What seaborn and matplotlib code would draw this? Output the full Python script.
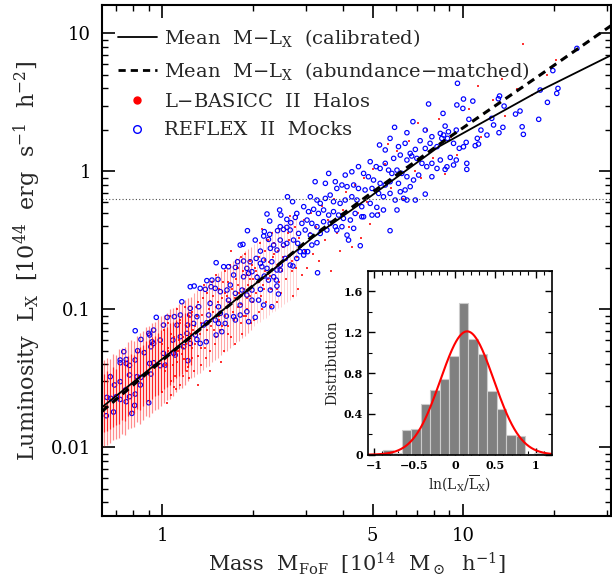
import numpy as np
import matplotlib
matplotlib.use("Agg")
import matplotlib.pyplot as plt
import seaborn as sns
from matplotlib.lines import Line2D
from matplotlib.ticker import FixedLocator, FixedFormatter, NullFormatter, LogLocator, MultipleLocator

sns.set_theme(style="ticks")
plt.rcParams["font.family"] = ["DejaVu Serif"]
plt.rcParams["mathtext.fontset"] = "dejavuserif"

# ---- REFLEX II mocks (log10 mass [1e14 Msun/h], log10 Lx [1e44 erg/s/h^2]) ----
mock_logm = [
    0.065, 0.093, 0.121, 0.159, 0.187, 0.220,
    -0.020, 0.016, 0.040, 0.060, 0.091, 0.115, 0.154, 0.193, 0.213,
    -0.090, -0.045, -0.042, -0.029, 0.004, 0.049, 0.084, 0.104, 0.137, 0.148, 0.176, 0.187, 0.209,
    -0.071, -0.034, -0.007, 0.035, 0.060, 0.082, 0.110, 0.126, 0.146, 0.179, 0.198,
    -0.128, -0.082, -0.060, -0.038, -0.029, 0.004, 0.038, 0.071, 0.085, 0.093, 0.115,
    -0.140, -0.120, -0.140, -0.120, -0.109, -0.090, -0.042, -0.007, 0.010, 0.043,
    -0.173, -0.159, -0.140, -0.109, -0.084, -0.071, -0.038, -0.029,
    -0.184, -0.171, -0.153, -0.140, -0.123, -0.109, -0.090, -0.073,
    -0.186, -0.162, -0.120, -0.101, -0.092, -0.045,
    0.416, 0.433, 0.348, 0.390, 0.394, 0.357, 0.447, 0.442, 0.414, 0.427,
    0.283, 0.339, 0.357, 0.383, 0.392, 0.403, 0.414, 0.425, 0.453,
    0.259, 0.268, 0.309, 0.326, 0.337, 0.353, 0.359, 0.370, 0.381, 0.392, 0.403, 0.414, 0.436, 0.450, 0.458, 0.472, 0.497, 0.514,
    0.179, 0.250, 0.270, 0.292, 0.312, 0.326, 0.337, 0.331, 0.348, 0.364, 0.381, 0.392, 0.409, 0.425, 0.434, 0.447, 0.470, 0.483, 0.516,
    0.148, 0.165, 0.185, 0.204, 0.220, 0.237, 0.243, 0.270, 0.281, 0.287, 0.298, 0.315, 0.339, 0.353, 0.370, 0.379, 0.392,
    0.093, 0.106, 0.126, 0.143, 0.162, 0.176, 0.193, 0.215, 0.226, 0.243, 0.265, 0.281, 0.298, 0.326, 0.359, 0.381, 0.386,
    0.259, 0.281, 0.298, 0.320, 0.337, 0.364, 0.237, 0.259, 0.287, 0.309, 0.243,
    0.772, 0.813, 0.874, 0.896,
    0.722, 0.741, 0.757, 0.785, 0.807, 0.824, 0.841, 0.857, 0.874, 0.890, 0.913,
    0.769, 0.791, 0.813, 0.829, 0.846, 0.863, 0.879, 0.896, 0.913,
    0.691, 0.711, 0.724, 0.741, 0.752, 0.763, 0.780, 0.796, 0.813, 0.835, 0.852, 0.896,
    0.553, 0.608, 0.630, 0.652, 0.669, 0.685, 0.702, 0.724, 0.741, 0.757, 0.785, 0.807, 0.824,
    0.508, 0.542, 0.575, 0.580, 0.597, 0.614, 0.636, 0.652, 0.674, 0.697, 0.719, 0.735, 0.757, 0.774, 0.791, 0.813, 0.841, 0.874,
    0.492, 0.514, 0.525, 0.542, 0.558, 0.569, 0.591, 0.608, 0.630, 0.647, 0.663, 0.691, 0.713, 0.735, 0.780, 0.802,
    0.470, 0.486, 0.503, 0.519, 0.536, 0.553, 0.569, 0.586, 0.602, 0.625, 0.641, 0.669, 0.697, 0.715,
    0.464, 0.481, 0.497, 0.514, 0.536, 0.558, 0.575, 0.597, 0.614, 0.636, 0.663, 0.757,
    0.475, 0.492, 0.525, 0.547, 0.580,
    0.619, 0.658, 0.885, 0.833, 1.012, 0.940, 0.924,
    0.981, 1.001, 1.032, 0.979, 0.999, 0.933, 1.019, 1.121, 1.117, 1.136, 1.189, 1.174, 1.251, 1.095, 1.101, 1.059, 1.047, 1.079, 1.119, 1.132, 1.196, 1.200,
    1.256, 1.280, 1.315, 1.311, 1.298, 1.378, 1.051, 1.040, 1.010, 1.001, 0.987, 0.968, 0.940, 0.951, 0.924, 0.935, 0.948, 0.929, 0.977, 1.012, 0.977, 0.957, 0.968, 0.946,
]
mock_loglx = [
    -0.945, -0.993, -0.981, -0.957, -0.981, -0.933,
    -1.058, -1.058, -1.053, -1.041, -1.041, -1.053, -1.041, -1.029, -1.049,
    -1.155, -1.174, -1.186, -1.150, -1.114, -1.114, -1.114, -1.102, -1.114, -1.097, -1.078, -1.102, -1.102,
    -1.218, -1.235, -1.223, -1.223, -1.198, -1.174, -1.186, -1.247, -1.235, -1.186, -1.162,
    -1.307, -1.300, -1.314, -1.271, -1.247, -1.319, -1.319, -1.271, -1.372, -1.247, -1.218,
    -1.367, -1.363, -1.387, -1.392, -1.406, -1.367, -1.392, -1.408, -1.404, -1.331,
    -1.488, -1.548, -1.524, -1.476, -1.488, -1.493, -1.469, -1.387,
    -1.638, -1.645, -1.633, -1.653, -1.585, -1.633, -1.614, -1.548,
    -1.771, -1.744, -1.669, -1.754, -1.696, -1.677,
    -0.184, -0.220, -0.309, -0.280, -0.317, -0.360, -0.305, -0.334, -0.348, -0.372,
    -0.430, -0.437, -0.457, -0.430, -0.401, -0.421, -0.406, -0.425, -0.450,
    -0.534, -0.529, -0.498, -0.578, -0.469, -0.493, -0.558, -0.534, -0.570, -0.498, -0.534, -0.522, -0.498, -0.522, -0.582, -0.582, -0.534, -0.517,
    -0.662, -0.655, -0.650, -0.655, -0.631, -0.667, -0.643, -0.691, -0.703, -0.655, -0.715, -0.679, -0.631, -0.679, -0.686, -0.631, -0.607, -0.582, -0.735,
    -0.792, -0.788, -0.783, -0.691, -0.691, -0.751, -0.696, -0.764, -0.703, -0.739, -0.727, -0.768, -0.759, -0.788, -0.764, -0.788, -0.715,
    -0.836, -0.831, -0.848, -0.855, -0.836, -0.848, -0.872, -0.860, -0.824, -0.884, -0.860, -0.896, -0.860, -0.855, -0.860, -0.831, -0.889,
    -0.969, -1.017, -0.933, -0.933, -0.969, -0.981, -1.053, -1.041, -1.089, -1.058, -1.077,
    0.319, 0.280, 0.299, 0.251,
    0.191, 0.155, 0.239, 0.179, 0.203, 0.130, 0.159, 0.222, 0.166, 0.203, 0.179,
    0.094, 0.118, 0.082, 0.111, 0.094, 0.058, 0.034, 0.058, 0.021,
    0.070, 0.034, 0.021, 0.058, 0.009, -0.015, 0.009, -0.015, -0.039, -0.063, -0.027, -0.039,
    -0.015, -0.027, -0.003, 0.034, -0.015, -0.039, -0.063, -0.087, -0.099, -0.075, -0.087, -0.135, -0.111,
    -0.075, -0.087, -0.075, -0.124, -0.099, -0.111, -0.099, -0.124, -0.135, -0.124, -0.160, -0.184, -0.160, -0.208, -0.148, -0.208, -0.208, -0.165,
    -0.184, -0.208, -0.232, -0.196, -0.172, -0.220, -0.232, -0.208, -0.184, -0.208, -0.256, -0.232, -0.261, -0.280, -0.280, -0.196,
    -0.256, -0.292, -0.275, -0.305, -0.280, -0.317, -0.292, -0.317, -0.341, -0.353, -0.305, -0.329, -0.317, -0.317,
    -0.377, -0.353, -0.377, -0.401, -0.365, -0.377, -0.401, -0.401, -0.462, -0.413, -0.329, -0.430,
    -0.425, -0.462, -0.450, -0.425, -0.425,
    -0.498, -0.539, 0.488, 0.360, 0.014, 0.014, 0.082,
    0.638, 0.524, 0.509, 0.481, 0.456, 0.420, 0.377, 0.546, 0.526, 0.473, 0.437, 0.415, 0.377, 0.384, 0.336, 0.299, 0.239, 0.263, 0.280, 0.319, 0.323, 0.268,
    0.589, 0.500, 0.601, 0.565, 0.730, 0.891, 0.198, 0.186, 0.210, 0.178, 0.167, 0.203, 0.328, 0.287, 0.275, 0.263, 0.239, 0.239, 0.299, 0.058, 0.082, 0.101, 0.046, 0.033,
]

# ---- L-BASICC II halos: discrete low-mass columns (log10 mass, log10 Lx range) ----
column_logm = [-0.195, -0.185, -0.175, -0.165, -0.155, -0.145, -0.135, -0.125, -0.115, -0.105,
               -0.095, -0.085, -0.075, -0.065, -0.055, -0.045, -0.035, -0.025, -0.015, -0.005,
               0.005, 0.015, 0.025, 0.035, 0.045, 0.055, 0.065, 0.075, 0.085, 0.095]
column_lo = [-1.99, -1.98, -1.97, -1.95, -1.94, -1.93, -1.90, -1.91, -1.87, -1.86,
             -1.85, -1.82, -1.83, -1.80, -1.77, -1.78, -1.75, -1.73, -1.72, -1.70,
             -1.68, -1.66, -1.65, -1.63, -1.60, -1.58, -1.57, -1.55, -1.52, -1.50]
column_hi = [-1.37, -1.35, -1.36, -1.32, -1.33, -1.29, -1.28, -1.27, -1.24, -1.22,
             -1.23, -1.19, -1.17, -1.16, -1.13, -1.12, -1.10, -1.09, -1.07, -1.05,
             -1.04, -1.03, -1.00, -0.99, -0.98, -0.96, -0.95, -0.93, -0.92, -0.91]
sparse_logm = [0.105, 0.115, 0.125, 0.135, 0.145, 0.155, 0.165, 0.175, 0.185, 0.195,
               0.205, 0.215, 0.225, 0.235, 0.245, 0.255, 0.265, 0.275, 0.285, 0.295]
sparse_lo = [-1.49, -1.47, -1.46, -1.44, -1.42, -1.41, -1.38, -1.37, -1.35, -1.33,
             -1.31, -1.30, -1.28, -1.26, -1.24, -1.23, -1.21, -1.19, -1.17, -1.15]
sparse_hi = [-0.88, -0.86, -0.85, -0.83, -0.81, -0.79, -0.78, -0.76, -0.74, -0.72,
             -0.70, -0.69, -0.67, -0.65, -0.63, -0.62, -0.60, -0.58, -0.56, -0.55]
faint_logm = [0.305, 0.315, 0.325, 0.335, 0.345, 0.355, 0.365, 0.375, 0.385, 0.395,
              0.405, 0.415, 0.425, 0.435, 0.445]
faint_lo = [-1.12, -1.10, -1.09, -1.07, -1.06, -1.04, -1.02, -1.01, -0.99, -0.98,
            -0.96, -0.95, -0.93, -0.92, -0.90]
faint_hi = [-0.53, -0.51, -0.50, -0.48, -0.47, -0.45, -0.43, -0.42, -0.40, -0.39,
            -0.37, -0.36, -0.34, -0.33, -0.31]

# ---- L-BASICC II halos: scattered cloud ----
halo_logm = [
    0.00, 0.01, 0.02, 0.03, 0.04, 0.05, 0.06, 0.07, 0.08, 0.09, 0.10,
    0.005, 0.015, 0.025, 0.035, 0.045, 0.055, 0.065, 0.075, 0.085, 0.095,
    0.00, 0.02, 0.04, 0.06, 0.08, 0.10, 0.03, 0.07, 0.09, 0.05,
    0.11, 0.12, 0.13, 0.14, 0.15, 0.16, 0.17, 0.18, 0.19, 0.20,
    0.105, 0.115, 0.125, 0.135, 0.145, 0.155, 0.165, 0.175, 0.185, 0.195,
    0.11, 0.13, 0.15, 0.17, 0.19, 0.12, 0.16, 0.18, 0.14, 0.20,
    0.21, 0.22, 0.23, 0.24, 0.25, 0.26, 0.27, 0.28, 0.29, 0.30,
    0.205, 0.215, 0.225, 0.235, 0.245, 0.255, 0.265, 0.275, 0.285, 0.295,
    0.22, 0.24, 0.26, 0.28, 0.30, 0.23, 0.27, 0.29, 0.21, 0.25,
    0.31, 0.32, 0.33, 0.34, 0.35, 0.36, 0.37, 0.38, 0.39, 0.40,
    0.305, 0.315, 0.325, 0.335, 0.345, 0.355, 0.365, 0.375, 0.385, 0.395,
    0.32, 0.34, 0.36, 0.38, 0.33,
    0.41, 0.42, 0.43, 0.44, 0.45, 0.46, 0.47, 0.48, 0.49, 0.50,
    0.415, 0.435, 0.455, 0.475, 0.495, 0.425, 0.445, 0.465,
    0.51, 0.52, 0.53, 0.54, 0.55, 0.56, 0.57, 0.58, 0.59, 0.60,
    0.61, 0.62, 0.63, 0.64, 0.65, 0.66, 0.67, 0.68, 0.69, 0.70,
    0.72, 0.74, 0.76, 0.78, 0.80, 0.82, 0.84, 0.86, 0.88, 0.90, 0.92, 0.94, 0.96, 0.98, 0.75, 0.85,
    1.02, 1.06, 1.10, 1.14, 1.18, 1.23, 1.28, 1.20, 1.05, 1.31, 1.13,
    0.012, 0.028, 0.042, 0.058, 0.072, 0.088, 0.102, 0.118, 0.132, 0.148,
    0.162, 0.178, 0.192, 0.208, 0.222, 0.238, 0.252, 0.268, 0.282, 0.298,
    0.312, 0.328, 0.342, 0.358, 0.372, 0.388, 0.402, 0.418, 0.432, 0.448,
    0.018, 0.038, 0.052, 0.068, 0.082, 0.098, 0.112, 0.128, 0.142, 0.158,
    0.172, 0.188, 0.202, 0.218, 0.232, 0.248, 0.262, 0.278, 0.292, 0.308,
    0.322, 0.338, 0.352, 0.368, 0.382, 0.398,
]
halo_loglx = [
    -1.60, -1.45, -1.30, -1.52, -1.20, -1.38, -1.10, -1.48, -1.25, -1.05, -1.35,
    -1.15, -1.68, -1.05, -1.40, -1.58, -1.22, -1.32, -0.98, -1.42, -1.18,
    -1.25, -1.10, -1.33, -1.55, -1.12, -1.02, -1.62, -1.28, -1.50, -1.00,
    -1.25, -0.95, -1.40, -1.10, -0.88, -1.30, -1.02, -1.20, -0.85, -1.12,
    -1.45, -1.05, -1.18, -0.92, -1.35, -1.00, -0.80, -1.25, -0.95, -1.38,
    -1.12, -1.28, -1.15, -0.90, -1.08, -1.55, -1.45, -0.75, -0.82, -0.92,
    -1.05, -0.80, -1.20, -0.92, -0.70, -1.10, -0.85, -1.00, -0.65, -0.95,
    -1.30, -0.90, -0.68, -1.02, -0.78, -0.88, -1.18, -0.60, -0.82, -1.10,
    -1.12, -1.25, -0.62, -0.75, -0.78, -0.58, -1.05, -0.90, -0.72, -0.98,
    -0.88, -0.62, -1.00, -0.72, -0.50, -0.85, -0.60, -0.95, -0.70, -0.55,
    -1.08, -0.75, -0.52, -0.82, -0.95, -0.66, -0.45, -0.78, -0.58, -0.88,
    -0.80, -0.58, -0.98, -0.68, -0.42,
    -0.78, -0.50, -0.65, -0.40, -0.85, -0.55, -0.35, -0.70, -0.45, -0.60,
    -0.62, -0.90, -0.48, -0.58, -0.30, -0.32, -0.70, -0.75,
    -0.40, -0.65, -0.25, -0.50, -0.35, -0.72, -0.20, -0.45, -0.58, -0.28,
    -0.15, -0.40, -0.55, -0.10, -0.30, -0.48, -0.05, -0.22, -0.38, 0.02,
    -0.30, 0.05, -0.12, 0.15, -0.20, 0.22, 0.00, -0.05, 0.30, 0.10, 0.38, -0.02, 0.25, 0.12, 0.20, 0.35,
    0.45, 0.25, 0.52, 0.40, 0.60, 0.55, 0.70, 0.92, 0.62, 0.81, 0.67,
    -1.40, -1.18, -1.48, -1.08, -1.36, -1.22, -1.15, -1.34, -1.04, -1.22,
    -1.12, -0.98, -1.15, -0.88, -0.95, -1.08, -0.82, -0.72, -0.92, -0.68,
    -0.72, -0.90, -0.64, -0.76, -0.52, -0.80, -0.62, -0.45, -0.72, -0.62,
    -1.28, -1.56, -1.30, -1.20, -1.45, -1.28, -0.98, -1.10, -1.28, -0.94,
    -1.15, -1.05, -0.80, -1.18, -0.85, -0.70, -0.96, -1.05, -0.78, -0.70,
    -1.02, -0.85, -0.78, -0.62, -0.85, -0.72,
]

# ---- mean relations ----
calib_mass = [0.63, 1.0, 2.0, 3.16, 4.79, 8.3, 17.8, 31.6]
calib_lx = [0.0195, 0.0437, 0.148, 0.331, 0.631, 1.51, 3.80, 7.08]
abund_mass = [0.63, 1.0, 2.0, 3.16, 4.79, 8.9, 17.8, 31.6]
abund_lx = [0.0182, 0.0427, 0.148, 0.339, 0.661, 1.74, 4.90, 11.7]
flux_limit_lx = 0.63

# ---- inset histogram ----
hist_edges = [-0.89, -0.77, -0.66, -0.54, -0.42, -0.31, -0.19, -0.07, 0.05,
              0.16, 0.28, 0.40, 0.52, 0.63, 0.75, 0.87, 0.98, 1.10]
hist_density = [0.05, 0.02, 0.24, 0.25, 0.50, 0.63, 0.74, 0.97, 1.49,
                1.13, 0.99, 0.62, 0.45, 0.19, 0.18, 0.01, 0.02]
gauss_mean = 0.15
gauss_sigma = 0.33

fig = plt.figure(figsize=(6.12, 5.82), dpi=100)
ax = fig.add_axes([0.1672, 0.1134, 0.8312, 0.8777])
ax.set_xscale("log")
ax.set_yscale("log")

cm = 10 ** np.array(column_logm)
ax.vlines(cm, 10 ** np.array(column_lo), 10 ** np.array(column_hi), color="red", lw=0.9, alpha=0.45)
ax.vlines(cm, 10 ** (np.array(column_lo) + 0.1), 10 ** (np.array(column_hi) - 0.1), color="red", lw=0.9, alpha=0.75)
ax.vlines(10 ** np.array(sparse_logm), 10 ** np.array(sparse_lo), 10 ** np.array(sparse_hi),
          color="red", lw=0.8, alpha=0.35)
ax.vlines(10 ** np.array(faint_logm), 10 ** np.array(faint_lo), 10 ** np.array(faint_hi),
          color="red", lw=0.7, alpha=0.18)

sns.scatterplot(x=10 ** np.array(halo_logm), y=10 ** np.array(halo_loglx), ax=ax,
                color="red", marker="s", s=3, linewidth=0, alpha=0.8, legend=False)
sns.scatterplot(x=10 ** np.array(mock_logm), y=10 ** np.array(mock_loglx), ax=ax,
                marker="o", s=10, facecolor="none", edgecolor="blue", linewidth=0.85, legend=False)

sns.lineplot(x=calib_mass, y=calib_lx, ax=ax, color="black", lw=1.3, estimator=None, sort=False)
sns.lineplot(x=abund_mass, y=abund_lx, ax=ax, color="black", lw=2.2, estimator=None, sort=False,
             linestyle=(0, (2.6, 1.8)))
ax.axhline(flux_limit_lx, color="0.3", lw=0.8, ls=(0, (1, 2)))

ax.set_xlim(0.632, 31.0)
ax.set_ylim(0.00318, 16.0)
ax.xaxis.set_major_locator(FixedLocator([1, 5, 10]))
ax.xaxis.set_major_formatter(FixedFormatter(["1", "5", "10"]))
ax.xaxis.set_minor_locator(FixedLocator([0.7, 0.8, 0.9, 2, 3, 4, 6, 7, 8, 9, 20, 30]))
ax.xaxis.set_minor_formatter(NullFormatter())
ax.yaxis.set_major_locator(FixedLocator([0.01, 0.1, 1, 10]))
ax.yaxis.set_major_formatter(FixedFormatter(["0.01", "0.1", "1", "10"]))
ax.yaxis.set_minor_locator(LogLocator(subs=np.arange(2, 10)))
ax.yaxis.set_minor_formatter(NullFormatter())
ax.tick_params(which="both", direction="in", top=True, right=True, colors="black", labelsize=13)
ax.tick_params(which="major", length=9, width=1.2, pad=8)
ax.tick_params(which="minor", length=4.5, width=1.0)
for s in ax.spines.values():
    s.set_linewidth(1.5)
    s.set_color("black")

ax.set_xlabel(r"Mass  M$_{\rm FoF}$  [10$^{14}$  M$_\odot$  h$^{-1}$]", fontsize=15, labelpad=4)
ax.set_ylabel(r"Luminosity  L$_{\rm X}$  [10$^{44}$  erg  s$^{-1}$  h$^{-2}$]", fontsize=16, labelpad=6)

handles = [Line2D([], [], color="black", lw=1.3),
           Line2D([], [], color="black", lw=2.0, ls=(0, (2.6, 1.8))),
           Line2D([], [], ls="", marker="o", color="red", ms=5),
           Line2D([], [], ls="", marker="o", mfc="none", mec="blue", mew=1.0, ms=5.5)]
labels = [r"Mean  M$-$L$_{\rm X}$  (calibrated)",
          r"Mean  M$-$L$_{\rm X}$  (abundance$-$matched)",
          r"L$-$BASICC  II  Halos",
          r"REFLEX  II  Mocks"]
ax.legend(handles, labels, loc="upper left", bbox_to_anchor=(0.015, 0.972), frameon=False,
          fontsize=14, handlelength=2.0, handletextpad=0.4, labelspacing=0.55, borderaxespad=0)

# ---- inset ----
axin = fig.add_axes([0.6018, 0.2187, 0.2997, 0.3156])
centres = [(a + b) / 2 for a, b in zip(hist_edges[:-1], hist_edges[1:])]
sns.histplot(x=centres, weights=hist_density, bins=hist_edges, ax=axin, color="0.5",
             edgecolor="0.8", linewidth=0.8, alpha=1.0)
gx = np.linspace(-1.073, 1.197, 300)
gy = np.exp(-0.5 * ((gx - gauss_mean) / gauss_sigma) ** 2) / (gauss_sigma * np.sqrt(2 * np.pi))
sns.lineplot(x=gx, y=gy, ax=axin, color="red", lw=1.5)
axin.set_xlim(-1.073, 1.197)
axin.set_ylim(0, 1.8)
axin.xaxis.set_major_locator(FixedLocator([-1, -0.5, 0, 0.5, 1]))
axin.xaxis.set_major_formatter(FixedFormatter(["\u22121", "\u22120.5", "0", "0.5", "1"]))
axin.xaxis.set_minor_locator(MultipleLocator(0.1))
axin.yaxis.set_major_locator(FixedLocator([0, 0.4, 0.8, 1.2, 1.6]))
axin.yaxis.set_major_formatter(FixedFormatter(["0", "0.4", "0.8", "1.2", "1.6"]))
axin.yaxis.set_minor_locator(MultipleLocator(0.2))
axin.tick_params(which="both", direction="in", top=True, right=True, colors="black", labelsize=8, pad=4)
axin.tick_params(which="major", length=5, width=1.0)
axin.tick_params(which="minor", length=3, width=0.8)
for lab in axin.get_xticklabels() + axin.get_yticklabels():
    lab.set_fontweight("bold")
for s in axin.spines.values():
    s.set_linewidth(1.2)
    s.set_color("black")
axin.set_xlabel(r"ln(L$_{\rm X}$/$\overline{\rm L}_{\rm X}$)", fontsize=10, labelpad=2)
axin.set_ylabel("Distribution", fontsize=10, labelpad=3)

fig.savefig("out.png", dpi=100)
